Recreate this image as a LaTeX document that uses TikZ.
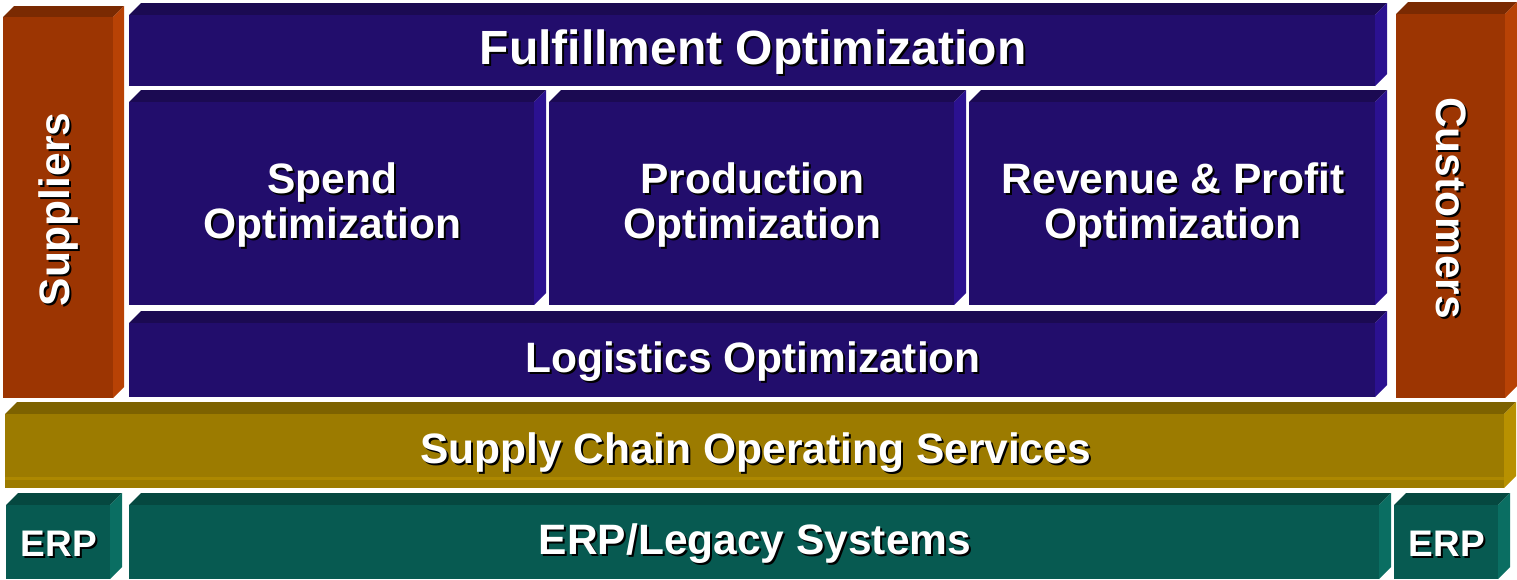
\documentclass[tikz,border=0pt]{standalone}
\usepackage{fontspec}
\setmainfont{Liberation Sans}
\usetikzlibrary{positioning}

\definecolor{oraF}{HTML}{9C3502}
\definecolor{oraT}{HTML}{7A2A02}
\definecolor{oraS}{HTML}{B84205}
\definecolor{bluF}{HTML}{220D6C}
\definecolor{bluT}{HTML}{1B0A52}
\definecolor{bluS}{HTML}{2B1190}
\definecolor{golF}{HTML}{9C7B00}
\definecolor{golT}{HTML}{7D6200}
\definecolor{golS}{HTML}{B89100}
\definecolor{teaF}{HTML}{075A51}
\definecolor{teaT}{HTML}{054840}
\definecolor{teaS}{HTML}{0A6E62}

% 3d slab: name, x0, y0, x1, y1, depth, colour
\newcommand{\slab}[7]{%
  \fill[#7T] (#2,#3+#6) -- (#2+#6,#3) -- (#4,#3) -- (#4-#6,#3+#6) -- cycle;
  \fill[#7S] (#4-#6,#3+#6) -- (#4,#3) -- (#4,#5-#6) -- (#4-#6,#5) -- cycle;
  \fill[#7F] (#2,#3+#6) rectangle (#4-#6,#5);
  \coordinate (#1) at ({(#2+#4-#6)/2},{(#3+#6+#5)/2});
}
% white label with a dark drop shadow
\newcommand{\boxlabel}[4][]{%
  \node[lbl,text=black,#1] (#2-s) at ([shift={(3,4)}]#3) {#4};
  \node[lbl,#1] (#2) at ([shift={(1,2)}]#3) {#4};
}

\tikzset{
  lbl/.style={text=white,align=center,inner sep=0pt,
    font=\fontsize{42.5}{45}\selectfont\bfseries},
  big/.style={font=\fontsize{48}{50}\selectfont\bfseries},
  small/.style={font=\fontsize{37}{40}\selectfont\bfseries}
}

\begin{document}
\begin{tikzpicture}[x=1pt,y=-1pt]
  \useasboundingbox (0,0) rectangle (1517,579);

  \slab{sup}{3}{6}{124}{398}{11}{ora}
  \slab{cus}{1396}{2}{1517}{398}{12}{ora}
  \slab{ful}{129}{3}{1387}{86}{12}{blu}
  \slab{spd}{129}{90}{546}{305}{12}{blu}
  \slab{pro}{549}{90}{966}{305}{12}{blu}
  \slab{rev}{969}{90}{1387}{305}{12}{blu}
  \slab{log}{129}{311}{1387}{397}{12}{blu}
  \slab{scs}{5}{402}{1516}{488}{12}{gol}
  \fill[golS!60!golF] (5,477) rectangle (1504,480);
  \slab{erpl}{6}{493}{122}{579}{12}{tea}
  \slab{leg}{129}{493}{1391}{579}{12}{tea}
  \slab{erpr}{1394}{493}{1510}{579}{12}{tea}

  \boxlabel[rotate=90]{sup-t}{sup}{Suppliers}
  \boxlabel[rotate=-90]{cus-t}{cus}{Customers}
  \boxlabel[big]{ful-t}{ful}{Fulfillment Optimization}
  \boxlabel{spd-t}{spd}{Spend\\Optimization}
  \boxlabel{pro-t}{pro}{Production\\Optimization}
  \boxlabel{rev-t}{rev}{Revenue \& Profit\\Optimization}
  \boxlabel{log-t}{log}{Logistics Optimization}
  \boxlabel{scs-t}{scs}{Supply Chain Operating Services}
  \boxlabel[small]{erpl-t}{erpl}{ERP}
  \boxlabel{leg-t}{leg}{ERP/Legacy Systems}
  \boxlabel[small]{erpr-t}{erpr}{ERP}
\end{tikzpicture}
\end{document}
